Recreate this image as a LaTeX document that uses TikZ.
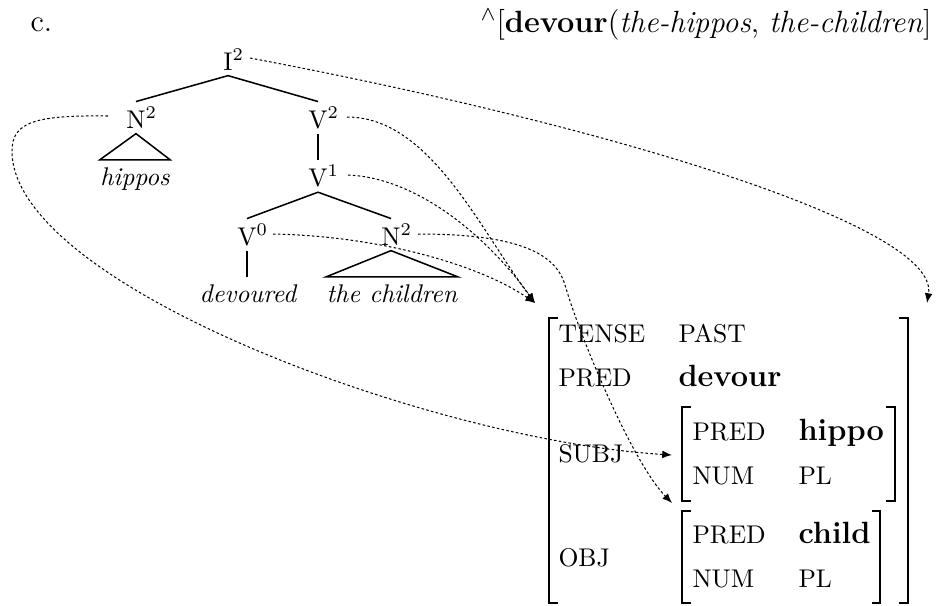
\documentclass[tikz,border=0pt]{standalone}
\usetikzlibrary{arrows.meta}
\begin{document}
\begin{tikzpicture}[x=0.390625pt,y=-0.390625pt,
  cat/.style={inner xsep=0pt, inner ysep=2pt, anchor=base, font=\fontsize{10}{12}\selectfont},
  leaf/.style={inner xsep=0pt, inner ysep=2.7pt, anchor=base, font=\fontsize{10}{12}\selectfont\itshape},
  tline/.style={line width=0.6pt},
  link/.style={line width=0.4pt, dash pattern=on 1pt off 0.9pt, -{Latex[length=3.8pt,width=3pt]}},
  brk/.style={line width=0.7pt},
  attr/.style={inner sep=0pt, anchor=base west, font=\fontsize{10}{12}\selectfont},
  val/.style={inner sep=0pt, anchor=base west, font=\large\bfseries}]
\useasboundingbox (0,0) rectangle (937,605);

% header
\node[anchor=base west, inner sep=0pt, font=\large] (lbl) at (30,31) {c.};
\node[anchor=base east, inner sep=0pt, font=\large] (sem) at (932,32)
  {$^\wedge$[\textbf{devour}(\textit{the-hippos}, \textit{the-children}]};

% tree
\node[cat] (I) at (228,70) {I\rlap{$^2$}};
\node[cat] (N) at (136,128) {N\rlap{$^2$}};
\node[cat] (V2) at (318,128) {V\rlap{$^2$}};
\node[cat] (V1) at (318,186) {V\rlap{$^1$}};
\node[cat] (V0) at (247,245) {V\rlap{$^0$}};
\node[cat] (Nb) at (391,245) {N\rlap{$^2$}};
\node[leaf] (hip) at (135,185) {hippos};
\node[leaf] (dev) at (248,302) {devoured};
\node[leaf] (chi) at (392,302) {the children};

\draw[tline] (I.south) -- (N.north);
\draw[tline] (I.south) -- (V2.north);
\draw[tline] (V2.south) -- (V1.north);
\draw[tline] (V1.south) -- (V0.north);
\draw[tline] (V1.south) -- (Nb.north);
\draw[tline] (V0.south) -- (V0.south |- dev.north);
\draw[tline] (N.south) -- (hip.north west) -- (hip.north east) -- cycle;
\draw[tline] (Nb.south) -- (chi.north west) -- (chi.north east) -- cycle;

% AVM
\node[attr] (tense) at (558,342.7) {TENSE};
\node[attr] (past) at (678,342.7) {PAST};
\node[attr] (pred) at (558,386.7) {PRED};
\node[val] (devour) at (678,386.7) {devour};
\node[attr] (subj) at (558,462.7) {SUBJ};
\node[attr] (spred) at (692,440) {PRED};
\node[val] (hippo) at (798,440) {hippo};
\node[attr] (snum) at (692,484.3) {NUM};
\node[attr] (spl) at (798,484.3) {PL};
\node[attr] (obj) at (558,566) {OBJ};
\node[attr] (opred) at (692,543.3) {PRED};
\node[val] (child) at (798,543.3) {child};
\node[attr] (onum) at (692,587.3) {NUM};
\node[attr] (opl) at (798,587.3) {PL};

\draw[brk] (558,318) -- (549,318) -- (549,603) -- (558,603);
\draw[brk] (899,318) -- (908,318) -- (908,603) -- (899,603);
\draw[brk] (691,407) -- (682,407) -- (682,501) -- (691,501);
\draw[brk] (886,407) -- (895,407) -- (895,501) -- (886,501);
\draw[brk] (691,511) -- (682,511) -- (682,603) -- (691,603);
\draw[brk] (872,511) -- (880,511) -- (880,603) -- (872,603);

% connector ends
\coordinate (iS) at (250,58);
\coordinate (nS) at (108,116);
\coordinate (nL) at (12,151);
\coordinate (v2S) at (347,117);
\coordinate (v1S) at (348,175);
\coordinate (v0S) at (273,234);
\coordinate (nbS) at (418,234);
\coordinate (nbM) at (565,285);
\coordinate (fTL) at (535,303);
\coordinate (fTR) at (927,303);
\coordinate (subjT) at (672,455);
\coordinate (objT) at (672,503);

\draw[link] (iS) .. controls (600,124) and (940,225) .. (fTR);
\draw[link] (nS) .. controls (35,115) and (12,122) .. (nL) .. controls (12,285) and (430,440) .. (subjT);
\draw[link] (v2S) .. controls (430,117) and (480,230) .. (fTL);
\draw[link] (v1S) .. controls (420,178) and (490,240) .. (fTL);
\draw[link] (v0S) .. controls (380,236) and (480,265) .. (fTL);
\draw[link] (nbS) .. controls (510,234) and (555,250) .. (nbM) .. controls (580,337) and (632,462) .. (objT);
\end{tikzpicture}
\end{document}
